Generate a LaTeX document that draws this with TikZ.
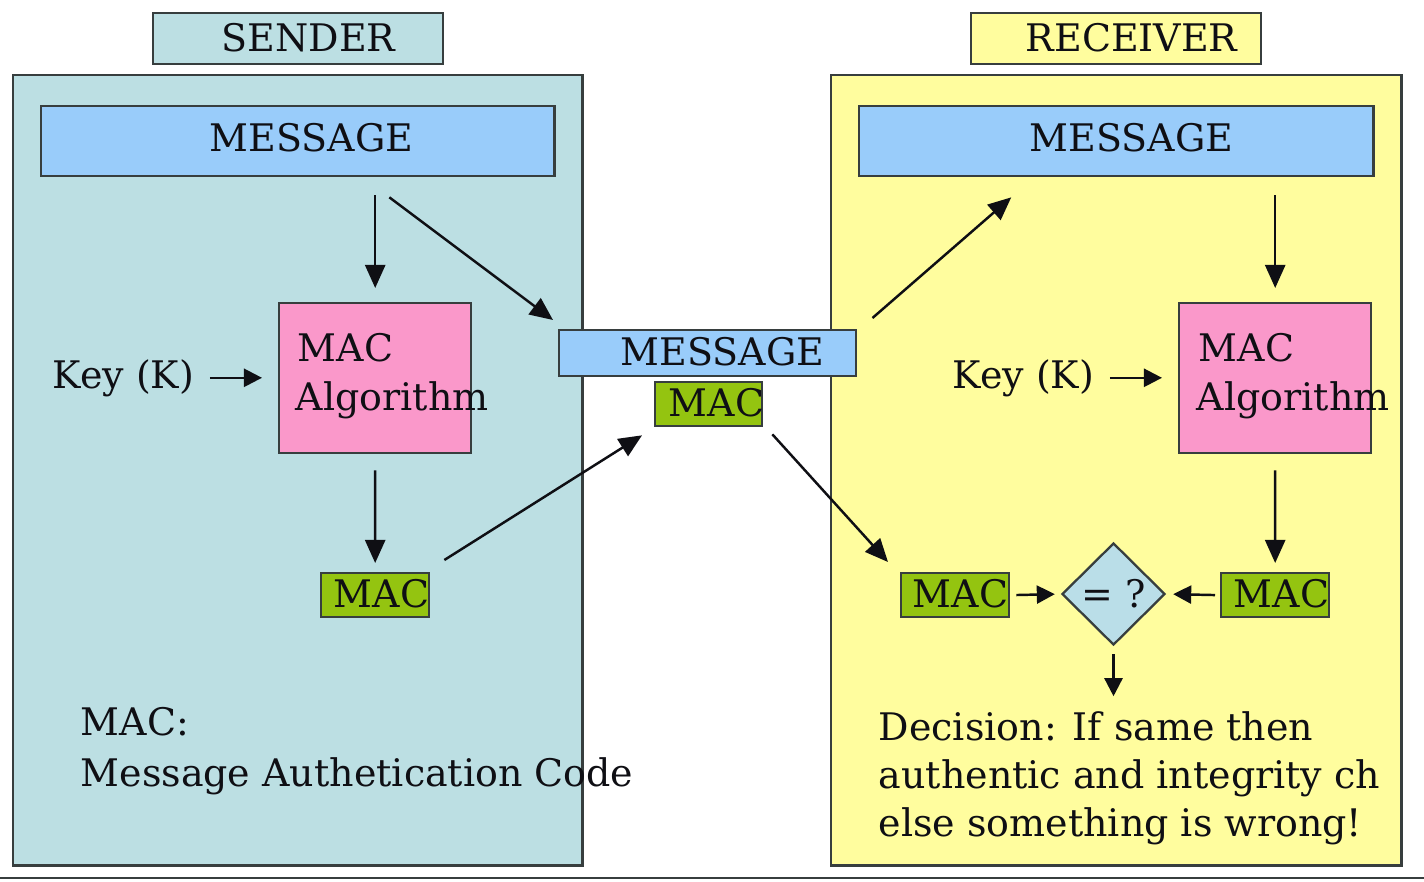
\documentclass[tikz,border=0pt]{standalone}
\usepackage{fontspec}
\setmainfont{DejaVu Serif}
\usetikzlibrary{shapes.geometric,arrows.meta}

\definecolor{sendbg}{RGB}{188,223,227}
\definecolor{recvbg}{RGB}{255,253,158}
\definecolor{msgblue}{RGB}{153,204,250}
\definecolor{algpink}{RGB}{250,152,202}
\definecolor{macgreen}{RGB}{148,196,16}
\definecolor{cmpblue}{RGB}{186,222,232}
\definecolor{edge}{RGB}{55,62,62}
\definecolor{ink}{RGB}{15,15,20}

\begin{document}
\begin{tikzpicture}[x=0.01cm,y=-0.01cm,
  box/.style={draw=edge, line width=0.65pt, inner sep=0pt, anchor=north west},
  lbl/.style={inner sep=0pt, anchor=base west, text=ink,
              font=\fontsize{10.8pt}{14pt}\selectfont},
  arr/.style={draw=ink, line width=0.7pt, -{Triangle[length=0.23cm,width=0.2cm]}},
  arrsm/.style={draw=ink, line width=0.7pt, -{Triangle[length=0.18cm,width=0.18cm]}}
]
\useasboundingbox (0,0) rectangle (1424,881);
\fill[white] (0,0) rectangle (1424,881);

% panels and their titles
\node[box, fill=sendbg, minimum width=5.69cm, minimum height=7.90cm] (spanel) at (12,74) {};
\node[box, fill=recvbg, minimum width=5.70cm, minimum height=7.90cm] (rpanel) at (830,74) {};
\node[box, fill=sendbg, minimum width=2.90cm, minimum height=0.51cm] (stag) at (152,12) {};
\node[box, fill=recvbg, minimum width=2.90cm, minimum height=0.51cm] (rtag) at (970,12) {};
\node[lbl] (stagt) at (221,51) {SENDER};
\node[lbl] (rtagt) at (1025,51) {RECEIVER};

% sender side
\node[box, fill=msgblue, minimum width=5.13cm, minimum height=0.70cm] (smsg) at (40,105) {};
\node[lbl] (smsgt) at (209,151) {MESSAGE};
\node[box, fill=algpink, minimum width=1.92cm, minimum height=1.50cm] (salg) at (278,302) {};
\node[lbl] (salgt1) at (297,361) {MAC};
\node[lbl] (salgt2) at (295,410) {Algorithm};
\node[lbl] (skey) at (52,388) {Key (K)};
\node[box, fill=macgreen, minimum width=1.08cm, minimum height=0.44cm] (smac) at (320,572) {};
\node[lbl] (smact) at (333,607) {MAC};
\node[lbl] (note1) at (80,735) {MAC:};
\node[lbl] (note2) at (80,786) {Message Authetication Code};

% receiver side
\node[box, fill=msgblue, minimum width=5.14cm, minimum height=0.70cm] (rmsg) at (858,105) {};
\node[lbl] (rmsgt) at (1029,151) {MESSAGE};
\node[box, fill=algpink, minimum width=1.92cm, minimum height=1.50cm] (ralg) at (1178,302) {};
\node[lbl] (ralgt1) at (1198,361) {MAC};
\node[lbl] (ralgt2) at (1196,410) {Algorithm};
\node[lbl] (rkey) at (952,388) {Key (K)};
\node[box, fill=macgreen, minimum width=1.08cm, minimum height=0.44cm] (rmaca) at (900,572) {};
\node[lbl] (rmacat) at (912,607) {MAC};
\node[box, fill=macgreen, minimum width=1.08cm, minimum height=0.44cm] (rmacb) at (1220,572) {};
\node[lbl] (rmacbt) at (1233,607) {MAC};
\node[diamond, draw=edge, line width=0.65pt, fill=cmpblue, inner sep=0pt,
      minimum width=1.03cm, minimum height=1.02cm] (cmp) at (1113.5,594) {};
\node[text=ink, inner sep=0pt, font=\fontsize{10.8pt}{14pt}\selectfont] (cmpt) at (1113.5,594) {= ?};
\node[lbl] (dec1) at (878,740) {Decision: If same then};
\node[lbl] (dec2) at (878,788) {authentic and integrity ch};
\node[lbl] (dec3) at (878,836) {else something is wrong!};

% transmitted message with its code
\node[box, fill=msgblue, minimum width=2.97cm, minimum height=0.46cm] (cmsg) at (558,329) {};
\node[lbl] (cmsgt) at (620,365) {MESSAGE};
\node[box, fill=macgreen, minimum width=1.07cm, minimum height=0.44cm] (cmac) at (654,381) {};
\node[lbl] (cmact) at (668,416) {MAC};

% sender connectors
\draw[arr, shorten <=0.18cm, shorten >=0.14cm] (smsg.south -| salg.north) -- (salg.north);
\draw[arr, shorten <=0.16cm, shorten >=0.09cm] (salg.south) -- (smac.north);
\draw[arrsm, shorten <=0.15cm, shorten >=0.16cm] (skey.east) -- (skey.east -| salg.west);
\draw[arr] ([xshift=0.915cm,yshift=-0.2cm]smsg.south) -- ([xshift=-0.05cm,yshift=0.09cm]cmsg.north west);
\draw[arr] ([xshift=0.14cm,yshift=0.12cm]smac.north east) -- ([xshift=-0.12cm,yshift=-0.08cm]cmac.south west);

% receiver connectors
\draw[arr] ([xshift=0.15cm,yshift=0.11cm]cmsg.north east) -- ([xshift=-1.05cm,yshift=-0.2cm]rmsg.south);
\draw[arr] ([xshift=0.09cm,yshift=-0.07cm]cmac.south east) -- ([xshift=-0.12cm,yshift=0.10cm]rmaca.north west);
\draw[arr, shorten <=0.18cm, shorten >=0.14cm] (rmsg.south -| ralg.north) -- (ralg.north);
\draw[arr, shorten <=0.16cm, shorten >=0.09cm] (ralg.south) -- (rmacb.north);
\draw[arrsm, shorten <=0.15cm, shorten >=0.16cm] (rkey.east) -- (rkey.east -| ralg.west);
\draw[arrsm, shorten <=0.06cm, shorten >=0.06cm] (rmaca.east) -- (cmp.west);
\draw[arrsm, shorten <=0.05cm, shorten >=0.07cm] (rmacb.west) -- (cmp.east);
\draw[arrsm, shorten <=0.08cm] (cmp.south) -- ([yshift=-0.5cm]cmp.south);

% rule along the bottom edge
\draw[edge, line width=0.7pt] (0,878) -- (1424,878);
\end{tikzpicture}
\end{document}
